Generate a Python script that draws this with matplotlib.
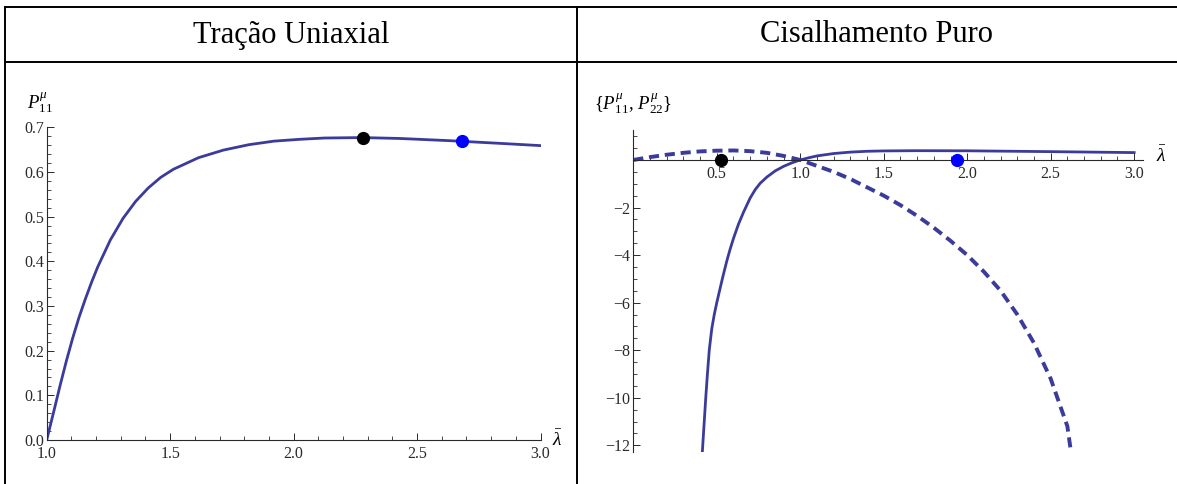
import numpy as np
import matplotlib.pyplot as plt
from matplotlib.lines import Line2D
from matplotlib.ticker import MultipleLocator, FixedLocator

plt.rcParams['font.family'] = ['Liberation Serif', 'DejaVu Serif']
plt.rcParams['mathtext.fontset'] = 'custom'
plt.rcParams['mathtext.rm'] = 'Liberation Serif'
plt.rcParams['mathtext.it'] = 'Liberation Serif:italic'

# --- data ---
# uniaxial traction, P11 vs stretch
uni_lam = [1.0, 1.0287, 1.0542, 1.0797, 1.1052, 1.1306, 1.1561, 1.1816,
           1.2071, 1.258, 1.309, 1.36, 1.411, 1.462, 1.513, 1.615, 1.716,
           1.818, 1.92, 2.022, 2.124, 2.277, 2.43, 2.634, 2.838, 3.0]
uni_p11 = [0.0, 0.064, 0.122, 0.177, 0.228, 0.274, 0.315, 0.353, 0.388,
           0.448, 0.496, 0.534, 0.564, 0.588, 0.606, 0.632, 0.649, 0.661,
           0.669, 0.673, 0.676, 0.677, 0.675, 0.670, 0.664, 0.659]
uni_pts_lam = [2.281, 2.683]
uni_pts_p11 = [0.677, 0.670]

# pure shear, P11 (solid) and P22 (dashed)
ps_lam11 = [0.41, 0.416, 0.425, 0.434, 0.444, 0.455, 0.47, 0.485, 0.5, 0.52,
            0.535, 0.56, 0.58, 0.6, 0.63, 0.66, 0.68, 0.7, 0.73, 0.76, 0.8,
            0.85, 0.9, 0.95, 1.0, 1.05, 1.1, 1.2, 1.3, 1.4, 1.5, 1.7, 2.0,
            2.5, 3.0]
ps_p11 = [-12.7, -12.0, -11.0, -10.0, -9.0, -8.0, -7.1, -6.5, -6.0, -5.4,
          -4.95, -4.25, -3.75, -3.3, -2.7, -2.2, -1.9, -1.6, -1.25, -0.98,
          -0.72, -0.46, -0.27, -0.12, 0.0, 0.09, 0.17, 0.27, 0.33, 0.365,
          0.38, 0.39, 0.385, 0.35, 0.31]
ps_lam22 = [0.0, 0.1, 0.2, 0.3, 0.4, 0.5, 0.6, 0.7, 0.8, 0.9, 1.0, 1.1, 1.2,
            1.3, 1.4, 1.5, 1.6, 1.7, 1.8, 1.9, 2.0, 2.1, 2.2, 2.3, 2.4, 2.5,
            2.6, 2.62]
ps_p22 = [0.0, 0.12, 0.22, 0.30, 0.36, 0.39, 0.40, 0.37, 0.30, 0.17, 0.0,
          -0.25, -0.5, -0.8, -1.15, -1.5, -1.9, -2.35, -2.85, -3.4, -4.0,
          -4.7, -5.5, -6.5, -7.7, -9.2, -11.2, -12.2]
ps_pts_lam = [0.525, 1.936]
ps_pts_p = [0.0, 0.0]

W, H = 1177, 484
CURVE = '#3b3b9b'
INK = '#2a2a2a'


def px_rect(x0, y_top, x1, y_bot):
    return [x0 / W, 1 - y_bot / H, (x1 - x0) / W, (y_bot - y_top) / H]


def style_axis(ax):
    for s in ['top', 'right']:
        ax.spines[s].set_visible(False)
    for s in ['left', 'bottom']:
        ax.spines[s].set_linewidth(0.8)
        ax.spines[s].set_color(INK)
    ax.tick_params(which='major', direction='in', length=5, width=0.7,
                   labelsize=11.5, colors=INK)
    ax.tick_params(which='minor', direction='in', length=3, width=0.6,
                   colors=INK)
    ax.tick_params(axis='x', pad=4)
    ax.tick_params(axis='y', pad=2)
    ax.patch.set_alpha(0)


fig = plt.figure(figsize=(W / 100, H / 100), dpi=100)

# table frame
for (xa, ya) in [((5, 1177), (6.5, 6.5)), ((5, 1177), (62, 62)),
                 ((5, 5), (6.5, 484)), ((577, 577), (6.5, 484))]:
    fig.add_artist(Line2D([xa[0] / W, xa[1] / W], [1 - ya[0] / H, 1 - ya[1] / H],
                          color='black', lw=1.4, transform=fig.transFigure))

fig.text(291 / W, 1 - 35 / H, 'Tração Uniaxial', ha='center', va='center', fontsize=22)
fig.text(877 / W, 1 - 35 / H, 'Cisalhamento Puro', ha='center', va='center', fontsize=22)

# left panel
ax1 = fig.add_axes(px_rect(46.7, 127.3, 540.5, 440))
ax1.plot(uni_lam, uni_p11, color=CURVE, lw=2.0, solid_joinstyle='round')
ax1.plot(uni_pts_lam[:1], uni_pts_p11[:1], 'o', ms=8.5, color='black', zorder=5)
ax1.plot(uni_pts_lam[1:], uni_pts_p11[1:], 'o', ms=8.5, color='#0000ff', zorder=5)
ax1.set_xlim(1, 3)
ax1.set_ylim(0, 0.7)
style_axis(ax1)
ax1.xaxis.set_major_locator(MultipleLocator(0.5))
ax1.xaxis.set_minor_locator(MultipleLocator(0.1))
ax1.yaxis.set_major_locator(MultipleLocator(0.1))
ax1.yaxis.set_minor_locator(MultipleLocator(0.02))
ax1.xaxis.set_major_formatter(lambda v, p: f'{v:.1f}')
ax1.yaxis.set_major_formatter(lambda v, p: f'{v:.1f}')
fig.text(27 / W, 1 - 103 / H, r'$P^{\mu}_{\mathit{11}}$', ha='left', va='center', fontsize=13.5)
fig.text(557 / W, 1 - 440 / H, r'$\bar{\lambda}$', ha='center', va='center', fontsize=14)

# right panel
ax2 = fig.add_axes(px_rect(633.3, 130, 1143, 451.7))
ax2.plot(ps_lam11, ps_p11, color=CURVE, lw=2.0, solid_joinstyle='round')
ax2.plot(ps_lam22, ps_p22, color=CURVE, lw=2.8, ls=(0, (2.6, 1.5)))
ax2.plot(ps_pts_lam[:1], ps_pts_p[:1], 'o', ms=8.5, color='black', zorder=5)
ax2.plot(ps_pts_lam[1:], ps_pts_p[1:], 'o', ms=8.5, color='#0000ff', zorder=5)
ax2.set_xlim(0, 3.053)
ax2.set_ylim(-12.27, 1.26)
style_axis(ax2)
ax2.spines['bottom'].set_position(('data', 0))
ax2.xaxis.set_major_locator(FixedLocator([0.5, 1.0, 1.5, 2.0, 2.5, 3.0]))
ax2.xaxis.set_minor_locator(MultipleLocator(0.1))
ax2.yaxis.set_major_locator(FixedLocator([-12, -10, -8, -6, -4, -2]))
ax2.yaxis.set_minor_locator(MultipleLocator(0.5))
ax2.xaxis.set_major_formatter(lambda v, p: f'{v:.1f}')
ax2.yaxis.set_major_formatter(lambda v, p: f'\u2212{abs(v):.0f}')
fig.text(594 / W, 1 - 104 / H, r'$\{P^{\mu}_{\mathit{11}},\, P^{\mu}_{\mathit{22}}\}$',
         ha='left', va='center', fontsize=13.5)
fig.text(1161 / W, 1 - 156 / H, r'$\bar{\lambda}$', ha='center', va='center', fontsize=14)

fig.savefig('out.png', dpi=100)
